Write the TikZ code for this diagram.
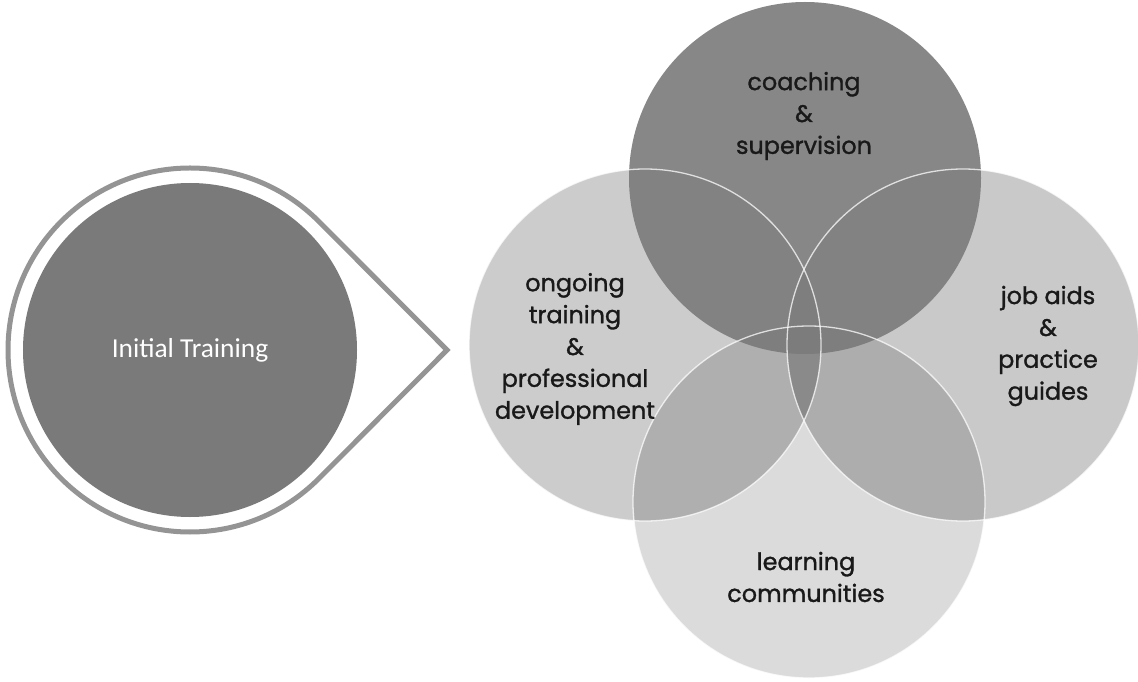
\documentclass[tikz,border=0pt]{standalone}
\usepackage{fontspec}
\newfontfamily\popfont[FakeBold=1.2]{Poppins}
\newfontfamily\carlfont{Carlito}
\begin{document}
\begin{tikzpicture}[x=1bp,y=-1bp,
  venn/.style={circle, minimum size=352bp, inner sep=0pt, draw=none, fill=black},
  vennline/.style={circle, minimum size=352bp, inner sep=0pt, draw=white, draw opacity=0.75, line width=1.3bp},
  lbl/.style={font=\popfont\fontsize{24}{32}\selectfont, align=center, text=black!90},
  tear/.style={draw=black!42, line width=5bp, line join=miter}]
\useasboundingbox (0,0) rectangle (1138,682);
% Venn circles
\node[venn, fill opacity=0.2] (left) at (645,345) {};
\node[venn, fill opacity=0.21] (right) at (963,345) {};
\node[venn, fill opacity=0.14] (bottom) at (809,502) {};
\node[venn, fill=black!52, fill opacity=0.9] (top) at (805,178) {};
\node[vennline] (leftline) at (left) {};
\node[vennline] (rightline) at (right) {};
\node[vennline] (bottomline) at (bottom) {};
% labels
\node[lbl] (tcoach) at (804,116) {coaching\\\&\\supervision};
\node[lbl] (tongo) at (575,349) {ongoing\\training\\\&\\professional\\development};
\node[lbl] (tjob) at (1048,346) {job aids\\\&\\practice\\guides};
\node[lbl] (tlearn) at (806,577) {learning\\communities};
% teardrop
\coordinate (tc) at (190,350);
\coordinate (tip) at (447,350);
\draw[tear] (318.7,221.3) arc[start angle=45, end angle=315, radius=182bp] -- (tip) -- cycle;
\node[circle, minimum size=334bp, inner sep=0pt, fill=black!52, text=white,
      font=\carlfont\fontsize{27.5}{30}\selectfont] (init) at (tc) {Initial Training};
\end{tikzpicture}
\end{document}
